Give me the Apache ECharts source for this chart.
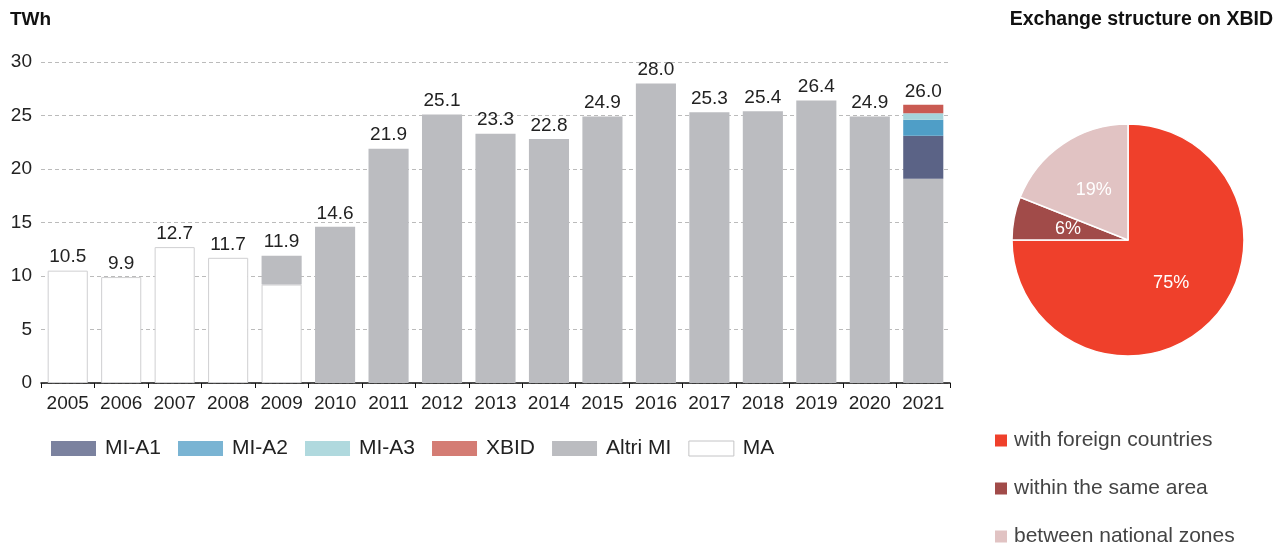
<!DOCTYPE html>
<html>
<head>
<meta charset="utf-8">
<script src="https://cdn.jsdelivr.net/npm/echarts@6/dist/echarts.min.js"></script>
<style>
  html, body { margin: 0; padding: 0; background: #fff; }
  #chart { width: 1284px; height: 549px; }
</style>
</head>
<body>
<div id="chart"></div>
<script>
'use strict';
var years = ['2005', '2006', '2007', '2008', '2009', '2010', '2011', '2012', '2013',
    '2014', '2015', '2016', '2017', '2018', '2019', '2020', '2021'];
var maValues = [10.5, 9.9, 12.7, 11.7, 9.2, '-', '-', '-', '-', '-', '-', '-', '-', '-', '-', '-', '-'];
var altriValues = ['-', '-', '-', '-', 2.7, 14.6, 21.9, 25.1, 23.3, 22.8, 24.9, 28.0, 25.3, 25.4, 26.4, 24.9, 19.1];
var mia1Values = ['-', '-', '-', '-', '-', '-', '-', '-', '-', '-', '-', '-', '-', '-', '-', '-', 4.0];
var mia2Values = ['-', '-', '-', '-', '-', '-', '-', '-', '-', '-', '-', '-', '-', '-', '-', '-', 1.5];
var mia3Values = ['-', '-', '-', '-', '-', '-', '-', '-', '-', '-', '-', '-', '-', '-', '-', '-', 0.6];
var xbidValues = ['-', '-', '-', '-', '-', '-', '-', '-', '-', '-', '-', '-', '-', '-', '-', '-', 0.8];
var totals = [10.5, 9.9, 12.7, 11.7, 11.9, 14.6, 21.9, 25.1, 23.3, 22.8, 24.9, 28.0, 25.3, 25.4, 26.4, 24.9, 26.0];

var pieNames = ['with foreign countries', 'within the same area', 'between national zones'];
var pieValues = [75, 6, 19];

var FONT = '"Liberation Sans", Arial, sans-serif';

var myChart = echarts.init(document.getElementById('chart'));

function stackBar(name, data, color) {
    return {
        name: name,
        type: 'bar',
        stack: 'total',
        barWidth: '75%',
        data: data,
        itemStyle: {color: color},
        emphasis: {disabled: true}
    };
}

var maSeries = stackBar('MA', maValues, '#ffffff');
maSeries.itemStyle = {color: '#ffffff', borderColor: '#cfcfd1', borderWidth: 1};

var option = {
    animation: false,
    textStyle: {fontFamily: FONT},
    title: [
        {text: 'TWh', left: 5, top: 5, textStyle: {fontFamily: FONT, fontSize: 19, fontWeight: 'bold', color: '#111'}},
        {text: 'Exchange structure on XBID', right: 6, top: 5,
            textStyle: {fontFamily: FONT, fontSize: 19.5, fontWeight: 'bold', color: '#111'}}
    ],
    legend: [
        {
            left: 46, top: 433, itemWidth: 45, itemHeight: 15, itemGap: 17,
            icon: 'rect',
            textStyle: {fontFamily: FONT, fontSize: 21, color: '#222', padding: [0, 0, 0, 4]},
            data: [
                {name: 'MI-A1', itemStyle: {color: '#7b829f'}},
                {name: 'MI-A2', itemStyle: {color: '#7ab4d3'}},
                {name: 'MI-A3', itemStyle: {color: '#b0d9de'}},
                {name: 'XBID', itemStyle: {color: '#d47c74'}},
                {name: 'Altri MI', itemStyle: {color: '#bbbcc0'}},
                {name: 'MA', itemStyle: {color: '#ffffff', borderColor: '#c4c4c6', borderWidth: 1}}
            ]
        },
        {
            orient: 'vertical', left: 993, top: 430, padding: 0,
            itemWidth: 14, itemHeight: 14, itemGap: 27,
            icon: 'rect',
            textStyle: {fontFamily: FONT, fontSize: 21, lineHeight: 21, color: '#444', padding: [0, 0, 0, 1]},
            data: pieNames
        }
    ],
    grid: {left: 41, right: 334, top: 62, bottom: 166},
    xAxis: {
        type: 'category',
        data: years,
        axisLine: {lineStyle: {color: '#111', width: 1.5}},
        axisTick: {show: true, length: 5, lineStyle: {color: '#111'}},
        axisLabel: {fontFamily: FONT, fontSize: 19, color: '#222', margin: 11, interval: 0, hideOverlap: false}
    },
    yAxis: {
        type: 'value',
        min: 0, max: 30, interval: 5,
        axisLine: {show: false},
        axisTick: {show: false},
        axisLabel: {fontFamily: FONT, fontSize: 19, color: '#222', margin: 9},
        splitLine: {lineStyle: {color: '#bbbbbb', type: [4, 3]}}
    },
    series: [
        maSeries,
        stackBar('Altri MI', altriValues, '#bbbcc0'),
        stackBar('MI-A1', mia1Values, '#5b6386'),
        stackBar('MI-A2', mia2Values, '#4f9ec7'),
        stackBar('MI-A3', mia3Values, '#a5d4db'),
        stackBar('XBID', xbidValues, '#c95a52'),
        {
            name: 'total',
            type: 'bar',
            barWidth: '75%',
            barGap: '-100%',
            z: 0,
            data: totals,
            itemStyle: {color: 'rgba(0,0,0,0)'},
            label: {
                show: true, position: 'top', distance: 4,
                fontFamily: FONT, fontSize: 19, color: '#222',
                formatter: function (p) { return p.value.toFixed(1); }
            },
            emphasis: {disabled: true},
            silent: true
        },
        {
            name: 'XBID structure',
            type: 'pie',
            center: [1128, 240],
            radius: [0, 116],
            startAngle: 90,
            clockwise: true,
            itemStyle: {borderColor: '#ffffff', borderWidth: 1.5},
            label: {
                show: true, position: 'inside',
                fontFamily: FONT, fontSize: 18, color: '#ffffff',
                formatter: '{c}%'
            },
            labelLine: {show: false},
            emphasis: {disabled: true},
            data: pieNames.map(function (n, i) {
                return {name: n, value: pieValues[i],
                    itemStyle: {color: ['#ef402b', '#a14b49', '#e1c3c3'][i]}};
            })
        }
    ]
};
myChart.setOption(option);
</script>
</body>
</html>
